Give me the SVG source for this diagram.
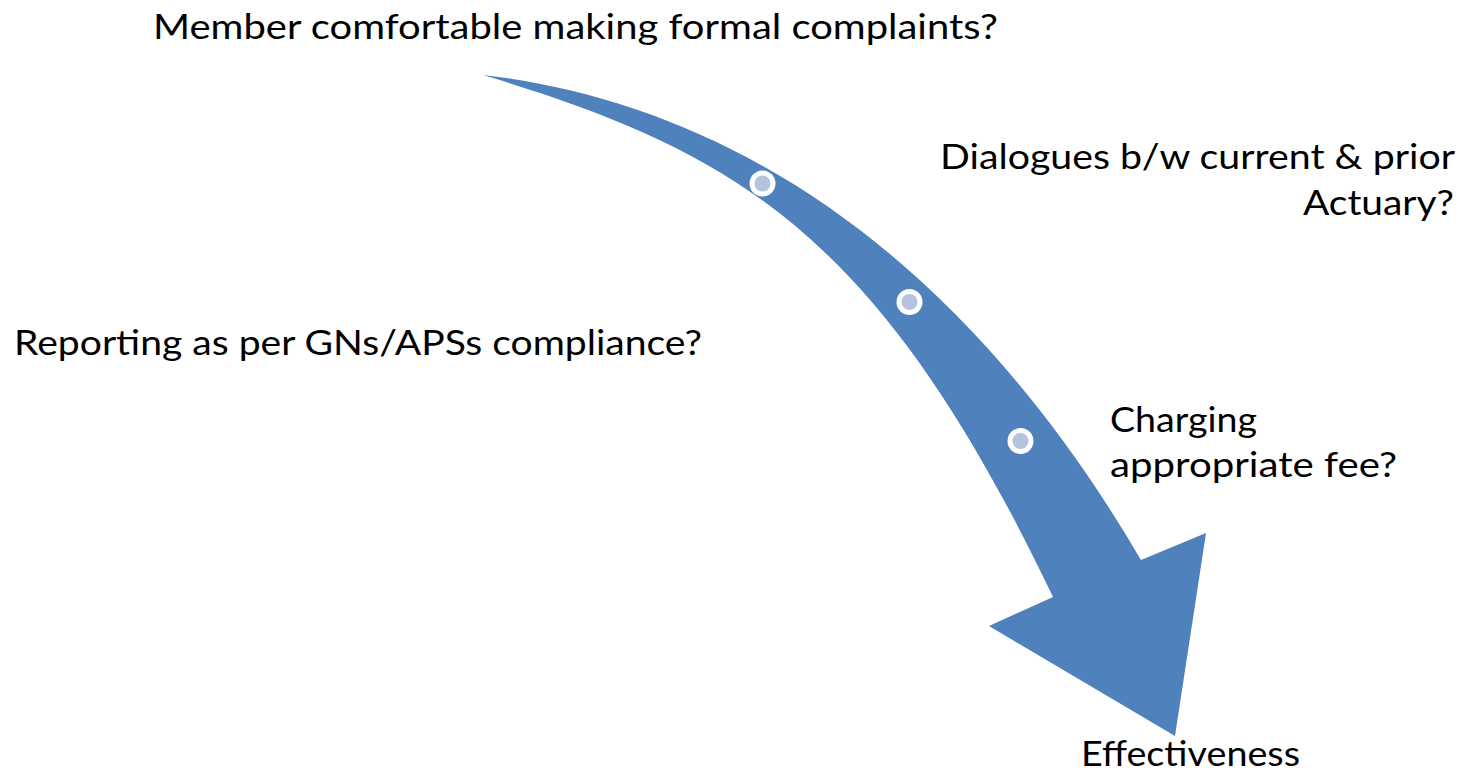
<svg xmlns="http://www.w3.org/2000/svg" width="1464" height="773" viewBox="0 0 1464 773">
<style>
.lbl{font-family:"Lato","Open Sans","Liberation Sans",sans-serif;font-size:34px;fill:#000}
.arrow{fill:#4f81bd}
.ring{fill:#ffffff}
.dot{fill:#b4c3de}
</style>
<rect width="1464" height="773" fill="#ffffff"/>
<g id="connectors">
<path class="arrow" d="M483,75 C700,100 945,225 1141,560 L1206,533 L1175,736 L989,626 L1053,597 C881,237 740,152 483,75 Z"/>
</g>
<g id="dot1"><circle class="ring" cx="762.5" cy="183.5" r="13"/><circle class="dot" cx="762.5" cy="183.5" r="8"/></g>
<g id="dot2"><circle class="ring" cx="909.5" cy="302" r="13"/><circle class="dot" cx="909.5" cy="302" r="8"/></g>
<g id="dot3"><circle class="ring" cx="1020.5" cy="441" r="13"/><circle class="dot" cx="1020.5" cy="441" r="8"/></g>
<g id="node-member"><text class="lbl" x="153" y="39" textLength="845" lengthAdjust="spacingAndGlyphs">Member comfortable making formal complaints?</text></g>
<g id="node-dialogues">
<text class="lbl" x="940" y="169" textLength="515" lengthAdjust="spacingAndGlyphs">Dialogues b/w current &amp; prior</text>
<text class="lbl" x="1303" y="215" textLength="151" lengthAdjust="spacingAndGlyphs">Actuary?</text>
</g>
<g id="node-reporting"><text class="lbl" x="14" y="355" textLength="688" lengthAdjust="spacingAndGlyphs">Reporting as per GNs/APSs compliance?</text></g>
<g id="node-charging">
<text class="lbl" x="1110" y="432" textLength="147" lengthAdjust="spacingAndGlyphs">Charging</text>
<text class="lbl" x="1110" y="477" textLength="287" lengthAdjust="spacingAndGlyphs">appropriate fee?</text>
</g>
<g id="node-effectiveness"><text class="lbl" x="1081" y="766" textLength="219" lengthAdjust="spacingAndGlyphs">Effectiveness</text></g>
</svg>
